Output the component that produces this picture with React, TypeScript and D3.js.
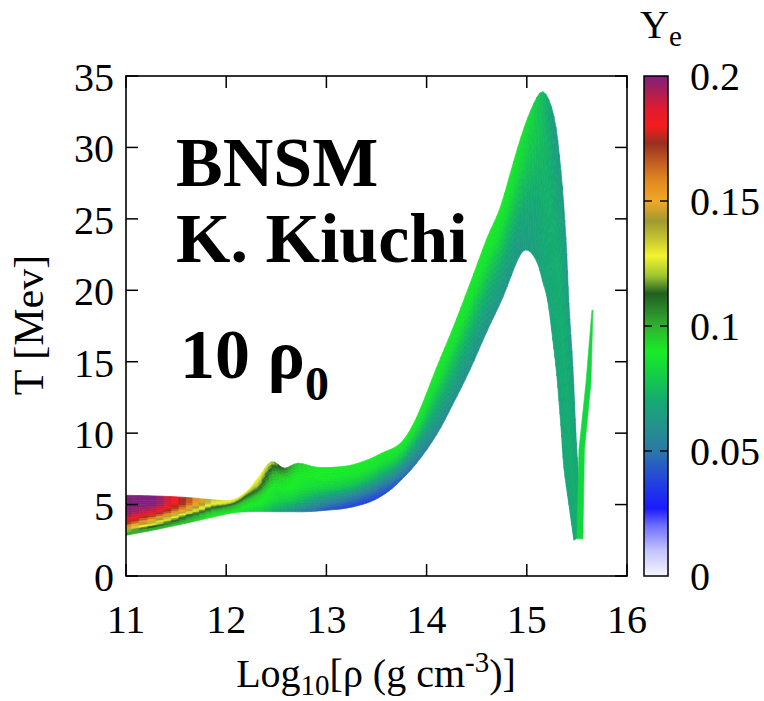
import React from 'react';
import * as d3 from 'd3';

// ---------- data ----------
const xTicks = [11, 12, 13, 14, 15, 16];
const yTicks = [0, 5, 10, 15, 20, 25, 30, 35];
const cbTicks = [0, 0.05, 0.1, 0.15, 0.2];
const cbTickLabels = ['0', '0.05', '0.1', '0.15', '0.2'];

// band of trajectories: outer (upper/right) edge and inner (lower/left) edge, [log10 rho, T]
const outerEdge: [number, number][] = [
  [11.0, 5.65], [11.3, 5.6], [11.6, 5.5], [11.85, 5.35], [12.05, 5.3], [12.2, 5.9],
  [12.32, 6.9], [12.45, 8.0], [12.58, 7.55], [12.72, 7.9], [12.92, 7.6], [13.2, 7.7],
  [13.4, 8.1], [13.55, 8.6], [13.74, 9.3], [13.9, 11.1], [14.1, 14.6], [14.26, 17.3],
  [14.43, 20.4], [14.6, 23.6], [14.74, 25.9], [14.91, 30.0], [15.04, 32.6], [15.16, 33.9],
  [15.27, 32.2], [15.34, 28.4], [15.39, 23.7], [15.42, 19.1], [15.46, 14.6], [15.49, 10.0],
  [15.51, 7.6], [15.56, 3.0],
];
const innerEdge: [number, number][] = [
  [11.0, 2.85], [11.3, 3.25], [11.6, 3.7], [11.85, 4.1], [12.05, 4.4], [12.2, 4.5],
  [12.35, 4.52], [12.5, 4.5], [12.65, 4.5], [12.8, 4.5], [13.0, 4.6], [13.2, 4.75],
  [13.4, 5.1], [13.55, 5.6], [13.7, 6.4], [13.9, 7.9], [14.1, 9.9], [14.26, 12.0],
  [14.43, 14.4], [14.6, 17.1], [14.76, 19.5], [14.92, 22.3], [15.01, 22.8], [15.1, 22.0],
  [15.16, 20.6], [15.21, 19.2], [15.26, 16.5], [15.3, 14.0], [15.34, 10.5], [15.37, 7.6],
  [15.42, 5.0], [15.47, 2.5],
];
// Ye across each cross-section, outer -> inner
const yeProfile: number[][] = [
  [0.2, 0.2, 0.198, 0.17, 0.09],
  [0.2, 0.2, 0.185, 0.14, 0.095],
  [0.172, 0.17, 0.15, 0.11, 0.095],
  [0.135, 0.13, 0.11, 0.095, 0.09],
  [0.132, 0.12, 0.1, 0.095, 0.09],
  [0.13, 0.11, 0.095, 0.09, 0.085],
  [0.13, 0.12, 0.095, 0.09, 0.08],
  [0.125, 0.1, 0.09, 0.085, 0.07],
  [0.11, 0.092, 0.09, 0.08, 0.06],
  [0.095, 0.09, 0.088, 0.075, 0.05],
  [0.09, 0.09, 0.082, 0.062, 0.042],
  [0.09, 0.088, 0.078, 0.055, 0.038],
  [0.09, 0.088, 0.075, 0.052, 0.037],
  [0.09, 0.086, 0.072, 0.052, 0.038],
  [0.09, 0.085, 0.072, 0.055, 0.042],
  [0.09, 0.085, 0.073, 0.06, 0.05],
  [0.09, 0.086, 0.075, 0.065, 0.056],
  [0.09, 0.086, 0.075, 0.066, 0.058],
  [0.09, 0.086, 0.075, 0.066, 0.06],
  [0.09, 0.086, 0.075, 0.066, 0.06],
  [0.09, 0.086, 0.075, 0.067, 0.061],
  [0.088, 0.084, 0.075, 0.067, 0.062],
  [0.085, 0.08, 0.074, 0.068, 0.064],
  [0.075, 0.076, 0.072, 0.068, 0.066],
  [0.063, 0.07, 0.072, 0.07, 0.068],
  [0.062, 0.068, 0.071, 0.07, 0.068],
  [0.062, 0.068, 0.071, 0.07, 0.068],
  [0.062, 0.068, 0.071, 0.07, 0.068],
  [0.063, 0.068, 0.071, 0.07, 0.068],
  [0.064, 0.068, 0.071, 0.07, 0.068],
  [0.065, 0.069, 0.071, 0.07, 0.068],
  [0.066, 0.069, 0.071, 0.07, 0.068],
];
// thin spike at the far right
const spikeLeft: [number, number][] = [[15.5, 2.6], [15.52, 8.8], [15.59, 13.5], [15.65, 18.6]];
const spikeRight: [number, number][] = [[15.66, 18.6], [15.64, 13.5], [15.575, 8.8], [15.56, 2.6]];
const spikeYe = 0.083;

// colour palette for Ye
const paletteYe = [0, 0.01, 0.02, 0.027, 0.035, 0.045, 0.05, 0.06, 0.07, 0.08, 0.09, 0.1, 0.106, 0.113,
  0.12, 0.128, 0.135, 0.142, 0.15, 0.158, 0.166, 0.173, 0.18, 0.187, 0.193, 0.2];
const paletteColors = ['#f6f6ff', '#c4c4ff', '#7070ff', '#1a1aff', '#2038e8', '#2860c0', '#2a78a8', '#24928c',
  '#14aa72', '#14cc48', '#18ec26', '#30b030', '#2a8a2a', '#206020', '#9cc430', '#f4f430', '#c4c430', '#a09a30',
  '#f0a828', '#e08a20', '#c05a20', '#983020', '#f41c1c', '#e01a30', '#b02050', '#7f1f7f'];

// ---------- layout ----------
const W = 764, H = 701;
const PL = 126, PR = 627, PT = 76, PB = 576;
const CBL = 644, CBR = 668;
const FONT = "'Liberation Serif', 'Times New Roman', serif";

export default function App() {
  const x = d3.scaleLinear().domain([11, 16]).range([PL, PR]);
  const y = d3.scaleLinear().domain([0, 35]).range([PB, PT]);
  const cy = d3.scaleLinear().domain([0, 0.2]).range([PB, PT]);
  const color = d3.scaleLinear<string>().domain(paletteYe).range(paletteColors)
    .interpolate(d3.interpolateRgb).clamp(true);

  const lerp = (a: number, b: number, t: number) => a + (b - a) * t;
  const profAt = (p: number[], f: number) => {
    const t = f * (p.length - 1);
    const k = Math.min(Math.floor(t), p.length - 2);
    return lerp(p[k], p[k + 1], t - k);
  };

  const n = outerEdge.length;
  const outerPx = outerEdge.map(d => [x(d[0]), y(d[1])]);
  const innerPx = innerEdge.map(d => [x(d[0]), y(d[1])]);
  // Catmull-Rom smoothing of the edges (rendering only)
  const cr = (arr: number[][], i: number, t: number): [number, number] => {
    const p0 = arr[Math.max(i - 1, 0)], p1 = arr[i], p2 = arr[i + 1], p3 = arr[Math.min(i + 2, arr.length - 1)];
    const t2 = t * t, t3 = t2 * t;
    const f = (k: number) => 0.5 * (2 * p1[k] + (-p0[k] + p2[k]) * t + (2 * p0[k] - 5 * p1[k] + 4 * p2[k] - p3[k]) * t2
      + (-p0[k] + 3 * p1[k] - 3 * p2[k] + p3[k]) * t3);
    return [f(0), f(1)];
  };

  const NS = 16, NA = 4;
  const polys: { d: string; c: string }[] = [];
  for (let i = 0; i < n - 1; i++) {
    for (let a = 0; a < NA; a++) {
      const a0 = a / NA, a1 = (a + 1) / NA, am = (a + 0.5) / NA;
      const o0 = cr(outerPx, i, a0), o1 = cr(outerPx, i, a1);
      const i0 = cr(innerPx, i, a0), i1 = cr(innerPx, i, a1);
      for (let s = 0; s < NS; s++) {
        const f0 = s / NS, f1 = (s + 1) / NS, fm = (s + 0.5) / NS;
        const P = (o: [number, number], q: [number, number], f: number) => [lerp(o[0], q[0], f), lerp(o[1], q[1], f)];
        const pts = [P(o0, i0, f0), P(o0, i0, f1), P(o1, i1, f1), P(o1, i1, f0)];
        const ye = lerp(profAt(yeProfile[i], fm), profAt(yeProfile[i + 1], fm), am);
        polys.push({ d: 'M' + pts.map(p => p[0].toFixed(2) + ',' + p[1].toFixed(2)).join('L') + 'Z', c: color(ye) });
      }
    }
  }
  const spikePts = [...spikeLeft, ...spikeRight];
  const spikeD = 'M' + spikePts.map(p => x(p[0]).toFixed(2) + ',' + y(p[1]).toFixed(2)).join('L') + 'Z';

  const tickLen = 12;
  const LS = 40;
  const annoStyle: React.CSSProperties = {
    fontFamily: "'Liberation Serif', 'DejaVu Serif', serif",
    fontWeight: 700,
    fontSize: '70px',
  };

  return (
    <svg width={W} height={H} viewBox={`0 0 ${W} ${H}`} style={{ position: 'absolute', left: 0, top: 0, background: '#fff' }}>
      <defs>
        <clipPath id="plotClip"><rect x={PL} y={PT} width={PR - PL} height={PB - PT} /></clipPath>
        <linearGradient id="cbGrad" x1="0" y1="1" x2="0" y2="0">
          {paletteYe.map((v, i) => (
            <stop key={i} offset={v / 0.2} stopColor={paletteColors[i]} />
          ))}
        </linearGradient>
      </defs>
      <rect x={0} y={0} width={W} height={H} fill="#fff" />

      {/* data band */}
      <g clipPath="url(#plotClip)">
        {polys.map((p, i) => (
          <path key={i} d={p.d} fill={p.c} stroke={p.c} strokeWidth={0.7} strokeLinejoin="round" />
        ))}
        <path d={spikeD} fill={color(spikeYe)} stroke={color(spikeYe)} strokeWidth={0.6} />
      </g>

      {/* frame & ticks */}
      <rect x={PL} y={PT} width={PR - PL} height={PB - PT} fill="none" stroke="#000" strokeWidth={1.6} />
      {xTicks.map(t => (
        <g key={'xt' + t}>
          <line x1={x(t)} x2={x(t)} y1={PB} y2={PB - tickLen} stroke="#000" strokeWidth={1.5} />
          <line x1={x(t)} x2={x(t)} y1={PT} y2={PT + tickLen} stroke="#000" strokeWidth={1.5} />
          <text x={x(t)} y={633} textAnchor="middle" fontFamily={FONT} fontSize={LS}>{t}</text>
        </g>
      ))}
      {yTicks.map(t => (
        <g key={'yt' + t}>
          <line x1={PL} x2={PL + tickLen} y1={y(t)} y2={y(t)} stroke="#000" strokeWidth={1.5} />
          <line x1={PR} x2={PR - tickLen} y1={y(t)} y2={y(t)} stroke="#000" strokeWidth={1.5} />
          <text x={114} y={y(t) + 15} textAnchor="end" fontFamily={FONT} fontSize={LS}>{t}</text>
        </g>
      ))}

      {/* axis titles */}
      <text x={376} y={687} textAnchor="middle" fontFamily={FONT} fontSize={LS}>
        Log<tspan fontSize={29} dy={8}>10</tspan><tspan dy={-8}>[ρ (g cm</tspan><tspan fontSize={29} dy={-15}>-3</tspan><tspan dy={15}>)]</tspan>
      </text>
      <text transform={`translate(43,325) rotate(-90)`} textAnchor="middle" fontFamily={FONT} fontSize={42}>T [Mev]</text>

      {/* annotation */}
      <text x={176} y={186} style={annoStyle}>BNSM</text>
      <text x={176} y={262} style={annoStyle}>K. Kiuchi</text>
      <text x={180} y={378} style={annoStyle}>
        10 ρ<tspan style={{ fontSize: '48px' }} dy={22}>0</tspan>
      </text>

      {/* colour bar */}
      <rect x={CBL} y={PT} width={CBR - CBL} height={PB - PT} fill="url(#cbGrad)" stroke="#000" strokeWidth={1.5} />
      {cbTicks.map((t, i) => (
        <g key={'cb' + t}>
          {i > 0 && i < cbTicks.length - 1 && (
            <>
              <line x1={CBL} x2={CBL + 8} y1={cy(t)} y2={cy(t)} stroke="#000" strokeWidth={1.4} />
              <line x1={CBR} x2={CBR - 8} y1={cy(t)} y2={cy(t)} stroke="#000" strokeWidth={1.4} />
            </>
          )}
          <text x={690} y={cy(t) + 14} fontFamily={FONT} fontSize={LS}>{cbTickLabels[i]}</text>
        </g>
      ))}
      <text x={640} y={38} fontFamily={FONT} fontSize={LS}>
        Y<tspan fontSize={29} dy={8}>e</tspan>
      </text>
    </svg>
  );
}
